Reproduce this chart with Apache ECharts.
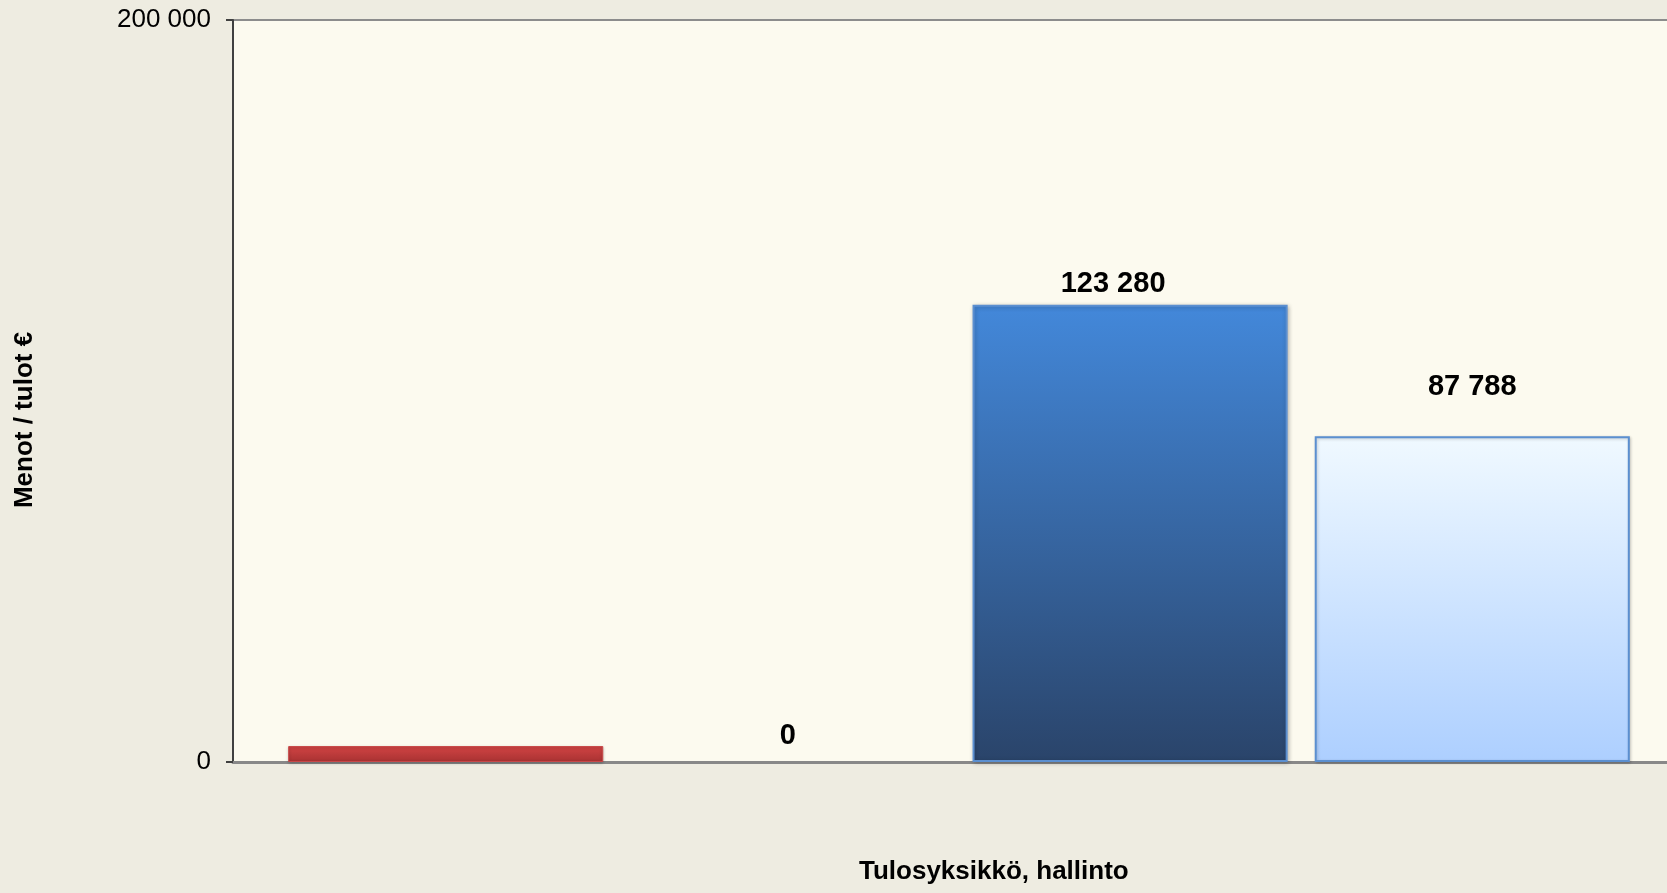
<!DOCTYPE html>
<html>
<head>
<meta charset="utf-8">
<script src="https://cdn.jsdelivr.net/npm/echarts@6/dist/echarts.min.js"></script>
<style>
html,body{margin:0;padding:0;background:#EEECE1;overflow:hidden;}
#chart{width:1667px;height:893px;}
</style>
</head>
<body>
<div id="chart"></div>
<script>
const categories = ["Tulosyksikkö, hallinto"];
const seriesA = [4300];
const seriesB = [0];
const seriesC = [123280];
const seriesD = [87788];
const yTicks = [0, 200000];

function fmt(v){ return String(Math.round(v)).replace(/\B(?=(\d{3})+(?!\d))/g, ' '); }

const chart = echarts.init(document.getElementById('chart'));
const lbl = (off) => ({
  show: true, position: 'top', distance: 5, offset: off,
  formatter: p => fmt(p.value),
  fontFamily: 'Liberation Sans, Arial, sans-serif', fontWeight: 'bold', fontSize: 29, color: '#000'
});
const lg = (c1, c2) => new echarts.graphic.LinearGradient(0,0,0,1,[{offset:0,color:c1},{offset:1,color:c2}]);

chart.setOption({
  backgroundColor: '#EEECE1',
  animation: false,
  title: {
    text: categories[0], left: 859, top: 859, padding: 0,
    textStyle: { fontFamily: 'Liberation Sans, Arial, sans-serif', fontWeight: 'bold', fontSize: 26, color: '#000' }
  },
  grid: { left: 233, width: 1452, top: 20, height: 742, outerBoundsMode: 'none', containLabel: false,
    show: true, backgroundColor: '#FCFAEF', borderColor: '#8C8C8C', borderWidth: 2 },
  xAxis: {
    type: 'category', data: categories,
    axisLine: { show: true, lineStyle: { color: '#888888', width: 3 } },
    axisTick: { show: false },
    axisLabel: { show: false }
  },
  yAxis: {
    type: 'value', min: yTicks[0], max: yTicks[1], interval: 200000,
    axisLine: { show: true, lineStyle: { color: '#404040', width: 2 } },
    axisTick: { show: true, length: 7, lineStyle: { color: '#404040', width: 2 } },
    splitLine: { show: false },
    axisLabel: { margin: 22, fontFamily: 'Liberation Sans, Arial, sans-serif', fontSize: 26, color: '#000', formatter: v => fmt(v) },
    name: 'Menot / tulot €', nameLocation: 'middle', nameGap: 195, nameRotate: 90,
    nameTextStyle: { fontFamily: 'Liberation Sans, Arial, sans-serif', fontWeight: 'bold', fontSize: 26, color: '#000', padding: [0,58,0,0] }
  },
  series: [
    { type: 'bar', data: seriesA, barGap: '8.6%', barCategoryGap: '7.6%',
      itemStyle: { color: lg('#D24444', '#A83232'), borderColor: '#C84848', borderWidth: 1,
        shadowColor: 'rgba(0,0,0,0.25)', shadowBlur: 3, shadowOffsetY: 1 } },
    { type: 'bar', data: seriesB, itemStyle: { color: 'transparent' }, label: lbl([0, -7]) },
    { type: 'bar', data: seriesC,
      itemStyle: { color: lg('#4388DA', '#2A446A'), borderColor: '#5B8FD0', borderWidth: 2,
        shadowColor: 'rgba(0,0,0,0.25)', shadowBlur: 4, shadowOffsetX: 1, shadowOffsetY: 1 },
      label: lbl([-17, -1]) },
    { type: 'bar', data: seriesD,
      itemStyle: { color: lg('#F0F9FF', '#ADCFFF'), borderColor: '#5B8FD0', borderWidth: 2,
        shadowColor: 'rgba(0,0,0,0.2)', shadowBlur: 3, shadowOffsetX: 1, shadowOffsetY: 1 },
      label: lbl([0, -30]) }
  ]
});
</script>
</body>
</html>
